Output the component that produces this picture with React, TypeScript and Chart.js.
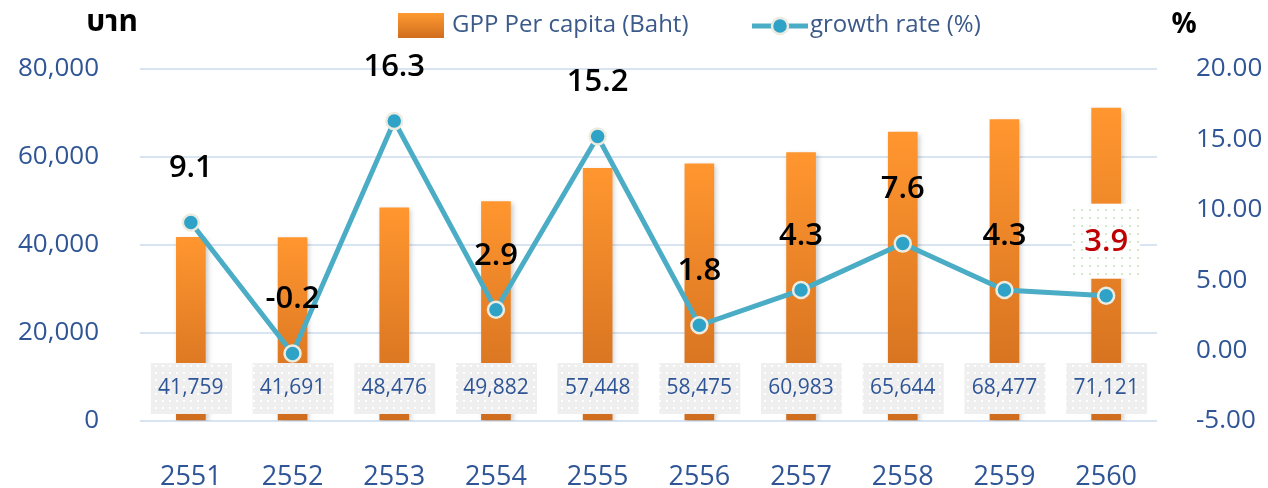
import React, { useEffect, useRef } from 'react';
import { Chart, registerables } from 'chart.js';

Chart.register(...registerables);

const years = ['2551', '2552', '2553', '2554', '2555', '2556', '2557', '2558', '2559', '2560'];
const gppPerCapita = [41759, 41691, 48476, 49882, 57448, 58475, 60983, 65644, 68477, 71121];
const growthRate = [9.1, -0.2, 16.3, 2.9, 15.2, 1.8, 4.3, 7.6, 4.3, 3.9];
const leftTicks = [0, 20000, 40000, 60000, 80000];
const rightTicks = [-5, 0, 5, 10, 15, 20];
const barLegend = 'GPP Per capita (Baht)';
const lineLegend = 'growth rate (%)';
const leftUnit = 'บาท';
const rightUnit = '%';
const highlightIndex = 9;

const AXIS_COLOR = '#2f5597';
const LINE_COLOR = '#4bacc6';
const SANS = '"Open Sans", "Noto Sans", sans-serif';

function makePattern(bg: string, dot: string, step: number) {
  const c = document.createElement('canvas');
  c.width = step;
  c.height = step;
  const g = c.getContext('2d')!;
  g.fillStyle = bg;
  g.fillRect(0, 0, step, step);
  g.fillStyle = dot;
  g.fillRect(1, 1, 2, 2);
  return c;
}

export default function App() {
  const ref = useRef<HTMLCanvasElement | null>(null);

  useEffect(() => {
    document.body.style.margin = '0';
    const canvas = ref.current!;
    const grayPat = makePattern('#efefef', '#ffffff', 7);
    const greenPat = makePattern('#ffffff', '#d4e8cc', 8);

    const overlay = {
      id: 'overlay',
      beforeDatasetDraw(chart: any, args: any) {
        if (args.index === 0) {
          const c = chart.ctx;
          c.save();
          c.shadowColor = 'rgba(0,0,0,0.22)';
          c.shadowBlur = 5;
          c.shadowOffsetX = 2;
          c.shadowOffsetY = 2;
        }
      },
      afterDatasetDraw(chart: any, args: any) {
        if (args.index === 0) chart.ctx.restore();
      },
      afterDatasetsDraw(chart: any) {
        const c = chart.ctx as CanvasRenderingContext2D;
        const area = chart.chartArea;
        const barMeta = chart.getDatasetMeta(0);
        const pat = c.createPattern(grayPat, 'repeat')!;
        barMeta.data.forEach((el: any, i: number) => {
          const cx = el.x;
          const cy = area.bottom - 33;
          c.save();
          c.fillStyle = pat;
          c.fillRect(cx - 40, cy - 25, 81, 51);
          c.fillStyle = AXIS_COLOR;
          c.font = `21px ${SANS}`;
          c.textAlign = 'center';
          c.textBaseline = 'middle';
          c.fillText(gppPerCapita[i].toLocaleString('en-US'), cx, cy);
          c.restore();
        });
        const lineMeta = chart.getDatasetMeta(1);
        const gpat = c.createPattern(greenPat, 'repeat')!;
        lineMeta.data.forEach((el: any, i: number) => {
          const cx = el.x;
          const cy = el.y - 54;
          c.save();
          if (i === highlightIndex) {
            c.fillStyle = gpat;
            c.fillRect(cx - 34, cy - 38, 68, 75);
          }
          c.fillStyle = i === highlightIndex ? '#c00000' : '#000000';
          c.font = `600 31px ${SANS}`;
          c.textAlign = 'center';
          c.textBaseline = 'middle';
          c.fillText(growthRate[i].toFixed(1), cx, cy);
          c.restore();
        });
      },
      afterDraw(chart: any) {
        const c = chart.ctx as CanvasRenderingContext2D;
        c.save();
        const g = c.createLinearGradient(0, 13, 0, 38);
        g.addColorStop(0, '#ff9a30');
        g.addColorStop(1, '#d06d1e');
        c.fillStyle = g;
        c.fillRect(398, 13, 46, 25);
        c.font = `24px ${SANS}`;
        c.fillStyle = '#3b5a8a';
        c.textAlign = 'left';
        c.textBaseline = 'middle';
        c.fillText(barLegend, 452, 25);
        c.strokeStyle = LINE_COLOR;
        c.lineWidth = 5;
        c.beginPath();
        c.moveTo(752, 26);
        c.lineTo(808, 26);
        c.stroke();
        c.beginPath();
        c.arc(780, 26, 8, 0, Math.PI * 2);
        c.fillStyle = '#2fa3c7';
        c.fill();
        c.lineWidth = 2.5;
        c.strokeStyle = '#ecebe0';
        c.stroke();
        c.fillStyle = '#3b5a8a';
        c.fillText(lineLegend, 810, 25);
        c.fillStyle = '#000000';
        c.font = `bold 30px "Noto Sans Thai", ${SANS}`;
        c.textAlign = 'center';
        c.fillText(leftUnit, 112, 25);
        c.font = `bold 28px ${SANS}`;
        c.fillText(rightUnit, 1184, 25);
        c.restore();
      },
    };

    const chart = new Chart(canvas, {
      type: 'bar',
      data: {
        labels: years,
        datasets: [
          {
            type: 'bar',
            label: barLegend,
            data: gppPerCapita,
            yAxisID: 'y',
            order: 1,
            barThickness: 29,
            backgroundColor: (ctx: any) => {
              const ch = ctx.chart;
              const sc = ch.scales?.y;
              if (!sc || !ch.chartArea || typeof ctx.raw !== 'number') return '#f08a2a';
              const top = sc.getPixelForValue(ctx.raw);
              const bottom = sc.getPixelForValue(0);
              if (!Number.isFinite(top) || !Number.isFinite(bottom) || top === bottom) return '#f08a2a';
              const gr = ch.ctx.createLinearGradient(0, top, 0, bottom);
              gr.addColorStop(0, '#ff962f');
              gr.addColorStop(1, '#cf6c1e');
              return gr;
            },
          } as any,
          {
            type: 'line',
            label: lineLegend,
            data: growthRate,
            yAxisID: 'y1',
            order: 0,
            borderColor: LINE_COLOR,
            borderWidth: 5,
            tension: 0,
            pointRadius: 8,
            pointBackgroundColor: '#2fa3c7',
            pointBorderColor: '#ecebe0',
            pointBorderWidth: 2.5,
          } as any,
        ],
      },
      options: {
        responsive: false,
        animation: false,
        devicePixelRatio: 1,
        layout: { padding: { top: 69, left: 0, right: 0, bottom: 0 } },
        plugins: {
          legend: { display: false },
          tooltip: { enabled: false },
          title: { display: false },
        },
        scales: {
          x: {
            grid: { display: false },
            border: { display: false },
            ticks: {
              color: AXIS_COLOR,
              font: { family: SANS, size: 27 },
              padding: 32,
            },
            afterFit: (s: any) => {
              s.height = 67;
            },
          },
          y: {
            position: 'left',
            min: 0,
            max: 80000,
            grid: { color: '#d9e4f2', lineWidth: 2, drawTicks: false },
            border: { display: false },
            ticks: {
              color: AXIS_COLOR,
              font: { family: SANS, size: 26 },
              padding: 41,
              callback: (v: any) => Number(v).toLocaleString('en-US'),
            },
            afterBuildTicks: (s: any) => {
              s.ticks = leftTicks.map((v) => ({ value: v }));
            },
            afterFit: (s: any) => {
              s.width = 140;
            },
          },
          y1: {
            position: 'right',
            min: -5,
            max: 20,
            grid: { display: false, drawTicks: false },
            border: { display: false },
            ticks: {
              color: AXIS_COLOR,
              font: { family: SANS, size: 26 },
              padding: 39,
              callback: (v: any) => Number(v).toFixed(2),
            },
            afterBuildTicks: (s: any) => {
              s.ticks = rightTicks.map((v) => ({ value: v }));
            },
            afterFit: (s: any) => {
              s.width = 111;
            },
          },
        },
      } as any,
      plugins: [overlay],
    });
    return () => chart.destroy();
  }, []);

  return (
    <div style={{ width: 1268, height: 488 }}>
      <canvas ref={ref} width={1268} height={488} style={{ display: 'block' }} />
    </div>
  );
}
